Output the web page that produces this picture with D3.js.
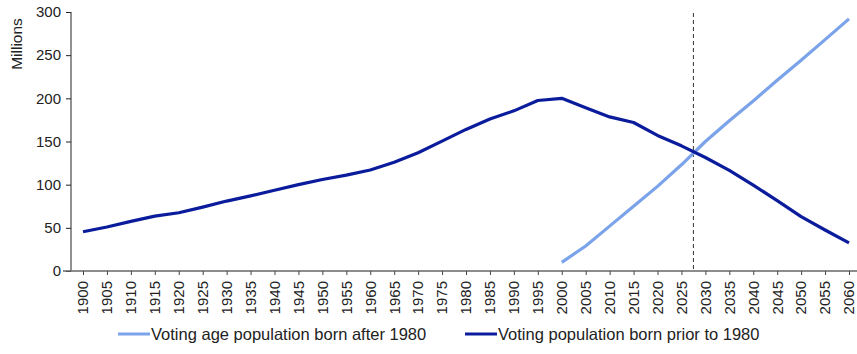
<!DOCTYPE html>
<html>
<head>
<meta charset="utf-8">
<script src="https://cdn.jsdelivr.net/npm/d3@7"></script>
<style>
  html, body { margin: 0; padding: 0; background: #fff; }
  svg { display: block; font-family: "Liberation Sans", Arial, sans-serif; }
</style>
</head>
<body>
<svg id="chart" width="857" height="354"></svg>
<script>
// Years on the category axis
const years = d3.range(1900, 2061, 5);

// Voting age population born after 1980 (millions), from 2000 onward
const bornAfter1980 = [
  null, null, null, null, null, null, null, null, null, null,
  null, null, null, null, null, null, null, null, null, null,
  10, 29, 52, 75, 98, 123, 150, 174, 197, 221, 244, 268, 292
];

// Voting population born prior to 1980 (millions)
const bornPrior1980 = [
  45.5, 51, 57.5, 63.5, 67.5, 74, 81, 87, 93.5, 100,
  106, 111, 117, 126, 137, 150.5, 164, 176, 185.5, 197.5,
  200, 189, 178.5, 172, 157, 145, 131.5, 116.5, 99.5, 81.5, 63, 47.5, 32.5
];

const yTicks = [0, 50, 100, 150, 200, 250, 300];
const markerYear = 2027.5;   // projection marker between 2025 and 2030

const seriesNames = ["Voting age population born after 1980", "Voting population born prior to 1980"];
const seriesColors = ["#7ba3ea", "#0a1c9c"];

const svg = d3.select("#chart");
const plotLeft = 71, plotRight = 857, plotTop = 12, plotBottom = 271;

const x = d3.scalePoint().domain(years).range([83, 849]);
const y = d3.scaleLinear().domain([0, 300]).range([plotBottom, plotTop]);
const xYear = v => x(1900) + (v - 1900) / 5 * x.step();

// Y axis
const yAxis = svg.append("g")
  .attr("transform", `translate(${plotLeft},0)`)
  .call(d3.axisLeft(y).tickValues(yTicks).tickSize(5).tickSizeOuter(0).tickPadding(5));
yAxis.select(".domain").attr("stroke", "#222").attr("d", `M0,${plotTop}V${plotBottom}`);
yAxis.selectAll(".tick line").attr("stroke", "#222");
yAxis.selectAll("text").attr("font-size", 15).attr("fill", "#222").attr("font-family", "Liberation Sans, Arial, sans-serif");

// X axis
const xAxis = svg.append("g")
  .attr("transform", `translate(0,${plotBottom})`)
  .call(d3.axisBottom(x).tickSize(4).tickSizeOuter(0));
xAxis.select(".domain").attr("stroke", "#666").attr("stroke-width", 1.5).attr("d", `M${plotLeft - 8},0H${plotRight}`);
xAxis.selectAll(".tick line").attr("stroke", "#444");
xAxis.selectAll("text")
  .attr("font-size", 15).attr("fill", "#222")
  .attr("font-family", "Liberation Sans, Arial, sans-serif")
  .attr("transform", "rotate(-90)")
  .attr("text-anchor", "end")
  .attr("x", -10).attr("y", 0).attr("dy", "0.32em");

// Y axis title
svg.append("text")
  .attr("transform", "translate(17,44) rotate(-90)")
  .attr("text-anchor", "middle")
  .attr("dy", "0.35em")
  .attr("font-size", 15.5)
  .attr("fill", "#222")
  .text("Millions");

// Projection marker
svg.append("line")
  .attr("x1", xYear(markerYear)).attr("x2", xYear(markerYear))
  .attr("y1", plotTop + 1).attr("y2", plotBottom)
  .attr("stroke", "#333").attr("stroke-width", 1)
  .attr("stroke-dasharray", "4,3");

// Lines
const line = d3.line()
  .defined(d => d.v != null)
  .x(d => x(d.year))
  .y(d => y(d.v));

[bornAfter1980, bornPrior1980].forEach((vals, i) => {
  svg.append("path")
    .datum(years.map((yr, j) => ({ year: yr, v: vals[j] })))
    .attr("fill", "none")
    .attr("stroke", seriesColors[i])
    .attr("stroke-width", 3.2)
    .attr("stroke-linejoin", "round")
    .attr("d", line);
});

// Legend
const legendX = [118, 465];
seriesNames.forEach((name, i) => {
  const g = svg.append("g").attr("transform", `translate(${legendX[i]},334)`);
  g.append("line").attr("x1", 0).attr("x2", 32).attr("stroke", seriesColors[i]).attr("stroke-width", 3);
  g.append("text").attr("x", 33).attr("dy", "0.35em")
    .attr("font-size", 16.5).attr("fill", "#222").text(name);
});
</script>
</body>
</html>
